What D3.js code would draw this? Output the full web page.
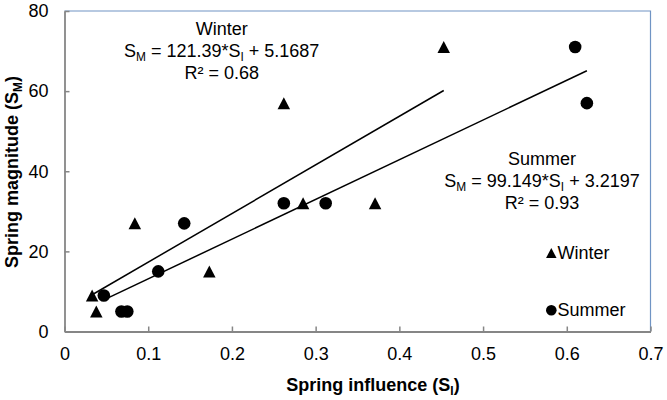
<!DOCTYPE html>
<html>
<head>
<meta charset="utf-8">
<script src="https://cdn.jsdelivr.net/npm/d3@7"></script>
<style>
  html, body { margin: 0; padding: 0; background: #fff; }
  svg { display: block; font-family: "Liberation Sans", Arial, sans-serif; }
</style>
</head>
<body>
<svg id="chart" width="667" height="400"></svg>
<script>
// ---- Data ----
const winterX = [0.033, 0.038, 0.084, 0.173, 0.262, 0.285, 0.371, 0.453];
const winterY = [9, 5, 27, 15, 57, 32, 32, 71];
const summerX = [0.047, 0.068, 0.075, 0.112, 0.143, 0.262, 0.312, 0.610, 0.624];
const summerY = [9, 5, 5, 15, 27, 32, 32, 71, 57];
const seriesNames = ["Winter", "Summer"];
const slopes = [121.39, 99.149];
const intercepts = [5.1687, 3.2197];
const slopeLabels = ["121.39", "99.149"];
const interceptLabels = ["5.1687", "3.2197"];
const r2Labels = ["0.68", "0.93"];
const xTicks = [0, 0.1, 0.2, 0.3, 0.4, 0.5, 0.6, 0.7];
const yTicks = [0, 20, 40, 60, 80];

// ---- Layout ----
const svg = d3.select("#chart");
const pL = 64.5, pR = 650.5, pT = 11, pB = 331.5;
const x = d3.scaleLinear().domain([0, 0.7]).range([pL, pR]);
const y = d3.scaleLinear().domain([0, 80]).range([pB, pT]);
const axisColor = "#868686";
const borderColor = "#7094c4";
const fs = 18;

// plot area border (top/right blue)
svg.append("path")
  .attr("d", `M${pL},${pT}H${pR}V${pB}`)
  .attr("fill", "none").attr("stroke", borderColor).attr("stroke-width", 1.2);

// axes
const xAxis = d3.axisBottom(x).tickValues(xTicks).tickSize(-5).tickSizeOuter(0).tickPadding(16)
  .tickFormat(d => d === 0 ? "0" : d3.format(".1f")(d));
const yAxis = d3.axisLeft(y).tickValues(yTicks).tickSize(-5).tickSizeOuter(0).tickPadding(16)
  .tickFormat(d3.format("d"));

const gx = svg.append("g").attr("transform", `translate(0,${pB})`).call(xAxis);
const gy = svg.append("g").attr("transform", `translate(${pL},0)`).call(yAxis);
[gx, gy].forEach(g => {
  g.select(".domain").attr("stroke", axisColor).attr("stroke-width", 1.8);
  g.selectAll(".tick line").attr("stroke", axisColor).attr("stroke-width", 1.5);
  g.selectAll(".tick text").attr("fill", "#000").style("font-size", fs + "px")
    .style("font-family", "'Liberation Sans', Arial, sans-serif");
});

// trend lines
const xs = [winterX, summerX];
xs.forEach((arr, i) => {
  const x0 = d3.min(arr), x1 = d3.max(arr);
  svg.append("line")
    .attr("x1", x(x0)).attr("y1", y(slopes[i] * x0 + intercepts[i]))
    .attr("x2", x(x1)).attr("y2", y(slopes[i] * x1 + intercepts[i]))
    .attr("stroke", "#000").attr("stroke-width", 1.5);
});

// markers
function triPath(w, h) {
  return `M0,${-h / 2}L${w / 2},${h / 2}L${-w / 2},${h / 2}Z`;
}
svg.append("g").selectAll("path").data(d3.zip(winterX, winterY)).join("path")
  .attr("d", triPath(12.5, 12))
  .attr("transform", d => `translate(${x(d[0])},${y(d[1])})`)
  .attr("fill", "#000");
svg.append("g").selectAll("circle").data(d3.zip(summerX, summerY)).join("circle")
  .attr("cx", d => x(d[0])).attr("cy", d => y(d[1])).attr("r", 6.3)
  .attr("fill", "#000");

// equation annotations
const annot = [
  { cx: 221.7, y0: 35 },
  { cx: 542, y0: 165 }
];
annot.forEach((a, i) => {
  const g = svg.append("g").attr("font-size", fs).attr("fill", "#000").attr("text-anchor", "middle");
  g.append("text").attr("x", a.cx).attr("y", a.y0).text(seriesNames[i]);
  const t = g.append("text").attr("x", a.cx).attr("y", a.y0 + 22);
  t.append("tspan").text("S");
  t.append("tspan").attr("dy", 3.5).attr("font-size", fs * 0.66).text("M");
  t.append("tspan").attr("dy", -3.5).text(" = " + slopeLabels[i] + "*S");
  t.append("tspan").attr("dy", 3.5).attr("font-size", fs * 0.66).text("I");
  t.append("tspan").attr("dy", -3.5).text(" + " + interceptLabels[i]);
  g.append("text").attr("x", a.cx).attr("y", a.y0 + 43.5).text("R² = " + r2Labels[i]);
});

// legend
const lg = svg.append("g").attr("font-size", fs).attr("fill", "#000");
lg.append("path").attr("d", triPath(10.5, 10)).attr("transform", "translate(551.3,253)");
lg.append("text").attr("x", 557.5).attr("y", 259).text(seriesNames[0]);
lg.append("circle").attr("cx", 551.3).attr("cy", 310.3).attr("r", 5.3);
lg.append("text").attr("x", 557.5).attr("y", 316).text(seriesNames[1]);

// axis titles
const xt = svg.append("text").attr("x", 373).attr("y", 391).attr("text-anchor", "middle")
  .attr("font-size", fs).attr("font-weight", "bold");
xt.append("tspan").text("Spring influence (S");
xt.append("tspan").attr("dy", 4).attr("font-size", fs * 0.66).text("I");
xt.append("tspan").attr("dy", -4).text(")");

const yt = svg.append("text").attr("transform", "translate(17.5,172) rotate(-90)").attr("text-anchor", "middle")
  .attr("font-size", fs).attr("font-weight", "bold");
yt.append("tspan").text("Spring magnitude (S");
yt.append("tspan").attr("dy", 4).attr("font-size", fs * 0.66).text("M");
yt.append("tspan").attr("dy", -4).text(")");
</script>
</body>
</html>
